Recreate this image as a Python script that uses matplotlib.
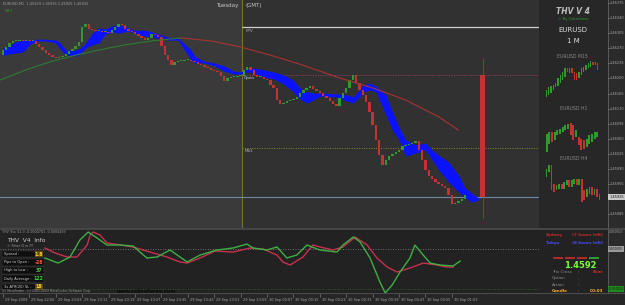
import numpy as np
import matplotlib.pyplot as plt
from matplotlib.patches import Rectangle
from matplotlib.transforms import blended_transform_factory as blend

# ---------------- data ----------------
# EURUSD M1 closes, one candle per minute starting 22:47
first_open = 1.46254
closes = [1.46266, 1.46273, 1.46282, 1.46287, 1.46287, 1.46289, 1.46287, 1.46289, 1.46287, 1.46287,
          1.46280, 1.46273, 1.46266, 1.46259, 1.46254, 1.46250, 1.46247, 1.46250, 1.46252, 1.46257,
          1.46264, 1.46268, 1.46275, 1.46285, 1.46319, 1.46326, 1.46315, 1.46312, 1.46310, 1.46310,
          1.46308, 1.46308, 1.46305, 1.46312, 1.46319, 1.46326, 1.46324, 1.46315, 1.46310, 1.46308,
          1.46303, 1.46298, 1.46294, 1.46289, 1.46294, 1.46303, 1.46301, 1.46296, 1.46275, 1.46254,
          1.46243, 1.46231, 1.46238, 1.46240, 1.46240, 1.46243, 1.46243, 1.46240, 1.46238, 1.46233,
          1.46231, 1.46227, 1.46224, 1.46220, 1.46217, 1.46215, 1.46206, 1.46194, 1.46201, 1.46203,
          1.46203, 1.46206, 1.46206, 1.46220, 1.46227, 1.46220, 1.46208, 1.46203, 1.46203, 1.46199,
          1.46196, 1.46185, 1.46178, 1.46150, 1.46141, 1.46143, 1.46148, 1.46150, 1.46152, 1.46157,
          1.46166, 1.46173, 1.46178, 1.46182, 1.46175, 1.46171, 1.46166, 1.46159, 1.46155, 1.46148,
          1.46141, 1.46136, 1.46155, 1.46166, 1.46178, 1.46196, 1.46208, 1.46189, 1.46173, 1.46162,
          1.46145, 1.46122, 1.46092, 1.46057, 1.46022, 1.45999, 1.46011, 1.46020, 1.46025, 1.46029,
          1.46034, 1.46043, 1.46046, 1.46048, 1.46050, 1.46055, 1.46034, 1.46011, 1.45988, 1.45974,
          1.45967, 1.45960, 1.45955, 1.45950, 1.45946, 1.45930, 1.45909, 1.45911, 1.45916, 1.45920,
          1.45930]

# blue ribbon (upper / lower edge)
ribbon_idx = [0, 2, 4, 6, 8, 10, 13, 16, 17, 19, 22, 23, 25, 27, 29, 31, 33, 35, 38, 40,
              43, 45, 48, 51, 53, 55, 57, 58, 61, 64, 67, 70, 72, 74, 76, 79, 82, 85, 88, 90,
              92, 94, 96, 101, 104, 106, 108, 109, 111, 113, 116, 118, 120, 122, 125, 128, 130, 132, 135, 138,
              140, 142, 144]
ribbon_top = [1.46271, 1.46278, 1.46285, 1.46289, 1.46289, 1.46291, 1.46291, 1.46289, 1.46285, 1.46266,
              1.46266, 1.46268, 1.46282, 1.46305, 1.46317, 1.46315, 1.46322, 1.46324, 1.46317, 1.46312,
              1.46312, 1.46308, 1.46301, 1.46294, 1.46294, 1.46280, 1.46266, 1.46252, 1.46240, 1.46236,
              1.46229, 1.46217, 1.46215, 1.46222, 1.46224, 1.46220, 1.46215, 1.46208, 1.46196, 1.46178,
              1.46169, 1.46166, 1.46166, 1.46164, 1.46162, 1.46157, 1.46173, 1.46185, 1.46189, 1.46182,
              1.46162, 1.46122, 1.46087, 1.46057, 1.46046, 1.46050, 1.46034, 1.46022, 1.46006, 1.45976,
              1.45946, 1.45934, 1.45923]
ribbon_bot = [1.46254, 1.46257, 1.46259, 1.46261, 1.46278, 1.46287, 1.46287, 1.46282, 1.46271, 1.46254,
              1.46252, 1.46254, 1.46271, 1.46278, 1.46282, 1.46303, 1.46308, 1.46305, 1.46310, 1.46305,
              1.46298, 1.46296, 1.46291, 1.46289, 1.46289, 1.46266, 1.46243, 1.46236, 1.46236, 1.46229,
              1.46217, 1.46210, 1.46210, 1.46215, 1.46213, 1.46203, 1.46199, 1.46187, 1.46169, 1.46152,
              1.46143, 1.46150, 1.46159, 1.46157, 1.46148, 1.46143, 1.46157, 1.46169, 1.46173, 1.46169,
              1.46115, 1.46080, 1.46057, 1.46020, 1.46027, 1.46034, 1.46011, 1.45988, 1.45960, 1.45937,
              1.45923, 1.45913, 1.45918]

# long moving average (green before the day break, red after)
ma_green_idx = [-1, 7, 14, 22, 29, 37, 45, 54]
ma_green = [1.46196, 1.46220, 1.46238, 1.46254, 1.46266, 1.46278, 1.46287, 1.46294]
ma_red_idx = [54, 63, 72, 81, 90, 96, 102, 112, 122, 132, 138]
ma_red = [1.46294, 1.46287, 1.46273, 1.46254, 1.46233, 1.46217, 1.46201, 1.46178, 1.46150, 1.46111, 1.46080]

# daily candle drawn at the right
day_idx = 145.3
day_open, day_close, day_high, day_low = 1.46208, 1.45925, 1.46247, 1.45876

# levels
fpv_level = 1.46319
open_level = 1.46208
ms1_level = 1.46039
bid = 1.45925
day_break_idx = 72.4
price_ticks = [1.46375, 1.46340, 1.46305, 1.46270, 1.46235, 1.46200, 1.46165, 1.46130,
               1.46095, 1.46060, 1.46025, 1.45990, 1.45955, 1.45885]

# THV Trix oscillator (x 1e-6)
osc_red_idx = [12.7, 15.8, 19.4, 22.4, 25.5, 26.4, 27.3, 29.4, 31.5, 35.5,
               39.4, 44.5, 49.7, 53.6, 55.8, 59.7, 64.2, 69.7, 74.8, 78.8,
               83, 84.8, 87, 90.9, 93.9, 96, 100, 103, 106.7, 110.3,
               113.3, 116.4, 119.4, 123.3, 127.3, 131.5, 134.5, 136.4]
osc_red = [1.3, -5.3, -10.6, -10.6, 5.3, 18.6, 22.5, 18.6, 8.0, 5.3,
           2.7, -4.0, -10.6, -17.2, -18.6, -11.9, -2.7, -4.0, 1.3, 0.0,
           -8.0, -17.2, -21.2, -10.6, 5.3, 2.7, -1.3, 2.7, 15.9, 5.3,
           -11.9, -23.9, -30.5, -25.2, -18.6, -21.2, -23.9, -23.9]
osc_green_idx = [12.7, 16.7, 20.3, 23.3, 25.8, 28.5, 31.5, 35.5, 39.4, 43.6,
                 46.7, 50.6, 55.8, 59.7, 64.8, 69.7, 73.9, 75.8, 80, 83,
                 86, 89, 92.1, 96, 101.2, 103, 106.1, 108.2, 111.2, 114.2,
                 115.8, 117.9, 120.3, 123.3, 124.8, 127.3, 129.4, 132.4, 136.4, 138.5]
osc_green = [-11.9, -18.6, -10.6, 11.9, 22.5, 14.6, 5.3, 5.3, 4.0, -11.9,
             -10.6, -1.3, -17.2, -8.0, -1.3, 1.3, 6.6, 1.3, -1.3, 2.7,
             -11.9, -8.0, 5.3, -1.3, -4.0, 5.3, 15.9, 9.3, -11.9, -43.7,
             -58.3, -47.7, -30.5, -11.9, 5.3, -8.0, -18.6, -21.2, -22.5, -15.9]
osc_ticks = [22.5, 0.0, -53.0]
osc_tick_labels = ["0.000053", "0.000000", "-0.000053"]

# mini charts in the THV panel (relative heights)
m15_opens = [3, 5, 7, 10, 13, 14, 17, 20, 23, 32, 27, 32, 28, 27, 22, 25, 28, 30, 32, 33, 38, 35, 37]
m15_closes = [10, 13, 14, 15, 17, 22, 25, 28, 32, 28, 32, 27, 20, 20, 28, 32, 33, 35, 37, 39, 35, 38, 30]
h1_opens = [5, 13, 25, 17, 22, 23, 25, 27, 28, 34, 32, 20, 20, 18, 17, 10, 13, 15, 18, 20]
h1_closes = [23, 25, 15, 25, 27, 28, 30, 32, 33, 22, 17, 27, 12, 7, 8, 18, 22, 23, 25, 25]
h4_opens = [30, 35, 42, 23, 17, 18, 23, 18, 22, 27, 20, 23, 28, 22, 28, 17, 10, 13, 20, 12, 18, 13]
h4_closes = [38, 42, 17, 15, 22, 23, 18, 25, 27, 20, 27, 28, 22, 28, 5, 7, 18, 20, 12, 18, 10, 7]

time_labels = ["29 Sep 2009", "29 Sep 22:55", "29 Sep 23:03", "29 Sep 23:11", "29 Sep 23:19",
               "29 Sep 23:27", "29 Sep 23:35", "29 Sep 23:43", "29 Sep 23:51", "29 Sep 23:59",
               "30 Sep 00:07", "30 Sep 00:15", "30 Sep 00:23", "30 Sep 00:31", "30 Sep 00:39",
               "30 Sep 00:47", "30 Sep 00:55", "30 Sep 01:03"]

info_labels = ["Spread :", "Pips to Open :", "High to Low :", "Daily Average :", "3x ATR(20) SL :"]
info_values = ["1.8", "-28", "37", "122", "18"]

GREEN = '#2f9b2f'
RED = '#c63131'

fig = plt.figure(figsize=(6.25, 3.05), dpi=100, facecolor='#262626')


def px_axes(x0, y0, x1, y1, **kw):
    a = fig.add_axes([x0 / 625, 1 - y1 / 305, (x1 - x0) / 625, (y1 - y0) / 305], **kw)
    a.set_xticks([])
    a.set_yticks([])
    for s in a.spines.values():
        s.set_visible(False)
    return a


def draw_candles(a, op, cl, width, min_body):
    cl = np.array(cl, dtype=float)
    op = np.array(op, dtype=float)
    x = np.arange(len(cl))
    lo = np.minimum(op, cl)
    h = np.maximum(np.abs(cl - op), min_body)
    colors = np.where(cl >= op, GREEN, RED)
    a.bar(x, h, bottom=lo, width=width, color=colors, linewidth=0, zorder=3)


# ---------------- main price chart ----------------
ax = px_axes(0, 0, 608, 228)
ax.set_facecolor('#313131')
ax.set_xlim(-0.91, 183.3)
ax.set_ylim(1.45853, 1.46382)
ax.axvspan(-1, day_break_idx, color='#3a3a3a', zorder=0, lw=0)

ax.fill_between(ribbon_idx, ribbon_bot, ribbon_top, color='#0a12ff', lw=0, zorder=2)
m1_opens = [first_open] + closes[:-1]
draw_candles(ax, m1_opens, closes, 0.72, 0.00002)
ax.plot(ma_green_idx, ma_green, color='#2f7a2f', lw=0.8, zorder=4)
ax.plot(ma_red_idx, ma_red, color='#a83232', lw=0.8, zorder=4)

ax.vlines(day_idx, day_low, day_high, color='#b03030', lw=0.6, zorder=3)
ax.bar(day_idx, day_open - day_close, bottom=day_close, width=1.5, color='#c43232', lw=0, zorder=3)

ax.axvline(day_break_idx, color='#74742e', lw=0.8, zorder=1)
ax.hlines(fpv_level, day_break_idx, 183, color='#d0d0d0', lw=0.9, zorder=1)
ax.hlines(open_level, day_break_idx, 183, color='#9a3d63', lw=0.7, linestyles=(0, (1, 1.5)), zorder=1)
ax.hlines(ms1_level, day_break_idx, 183, color='#85852e', lw=0.7, linestyles=(0, (1, 1.5)), zorder=1)
ax.axhline(bid, color='#7088a8', lw=0.8, zorder=1)

# ---------------- oscillator panel ----------------
ax2 = px_axes(0, 230, 608, 293)
ax2.set_facecolor('#222222')
ax2.set_xlim(-0.91, 183.3)
ax2.set_ylim(-58.3, 25.2)
ax2.axhline(0, color='#8a8a8a', lw=0.6, linestyle=(0, (1, 2)))
ax2.axhline(-53, color='#2f6a2f', lw=0.6, linestyle=(0, (1, 2)))
ax2.plot(osc_red_idx, osc_red, color='#c8304e', lw=1.0, solid_joinstyle='round')
ax2.plot(osc_green_idx, osc_green, color='#3cb043', lw=1.0, solid_joinstyle='round')

# ---------------- overlay (panels, labels) ----------------
ov = px_axes(0, 0, 625, 305, zorder=5)
ov.set_xlim(0, 625)
ov.set_ylim(305, 0)
ov.patch.set_alpha(0)
tp = blend(ov.transData, ax.transData)
to = blend(ov.transData, ax2.transData)
tx = blend(ax.transData, ov.transData)

ov.add_patch(Rectangle((539, 0), 68.5, 228, color='#272727', lw=0))
ov.add_patch(Rectangle((539, 230), 68.5, 63, color='#222222', lw=0))
ov.add_patch(Rectangle((607.5, 0), 17.5, 293, color='#2b2b2b', lw=0))
ov.plot([607.5, 607.5], [0, 293], color='#5a5a5a', lw=0.7)
ov.plot([0, 625], [229, 229], color='#4c4c4c', lw=1.2)
ov.add_patch(Rectangle((0, 293), 625, 12, color='#262626', lw=0))
ov.plot([0, 625], [293.3, 293.3], color='#555555', lw=0.6)

# price axis
for p in price_ticks:
    ov.plot([607.5, 609.5], [p, p], transform=tp, color='#888888', lw=0.4)
    ov.text(609.5, p, f'{p:.5f}', transform=tp, fontsize=2.5, color='#a8a8a8', va='center')
ov.text(609.5, bid, f'{bid:.5f}', transform=tp, fontsize=2.5, color='#111111', va='center',
        bbox=dict(boxstyle='square,pad=0.3', fc='#c8c8c8', ec='none'))
for v, lab in zip(osc_ticks, osc_tick_labels):
    box = None
    col = '#a8a8a8'
    if v == 0:
        box = dict(boxstyle='square,pad=0.25', fc='#9a9a9a', ec='none')
        col = '#111111'
    elif v < 0:
        box = dict(boxstyle='square,pad=0.25', fc='#1f8a1f', ec='none')
        col = '#111111'
    ov.text(608.8, v, lab, transform=to, fontsize=2.1, color=col, va='center', bbox=box)

# time axis
for k, lab in enumerate(time_labels):
    i = 8 * k
    ov.plot([i, i], [293.5, 296.5], transform=tx, color='#8a8a8a', lw=0.4)
    ov.text(i + 0.6, 299.5, lab, transform=tx, fontsize=2.5, color='#a8a8a8', va='center')

# main chart labels
ov.text(3, 4, 'EURUSD,M1  1.45929 1.45935 1.45925 1.45932', fontsize=2.5, color='#a0a0a0', va='center')
ov.text(5, 11, 'MA3', fontsize=2.6, color='#2f8a2f', va='center')
ov.text(238, 5, 'Tuesday', fontsize=4, color='#c8c8c8', ha='right', va='center')
ov.text(246, 5, '(GMT)', fontsize=4, color='#c8c8c8', va='center')
ov.text(246, 31, 'FPV', fontsize=3, color='#b0b0b0', va='center')
ov.text(244, 78, 'Open', fontsize=3, color='#d0d0d0', va='center')
ov.text(245, 151, 'MS1', fontsize=3, color='#b0b0b0', va='center')

# THV panel
ov.text(573, 11, 'THV V 4', fontsize=5.5, color='#bdbdbd', ha='center', va='center',
        fontweight='bold', fontstyle='italic')
ov.text(573, 19, '\u00a9 By Cobraforex', fontsize=2.6, color='#2f9b2f', ha='center', va='center')
ov.text(573, 30, 'EURUSD', fontsize=5, color='#dcdcdc', ha='center', va='center')
ov.text(573, 41, '1 M', fontsize=5, color='#dcdcdc', ha='center', va='center')
ov.text(572, 56, 'EURUSD M15', fontsize=3.3, color='#8a8a8a', ha='center', va='center')
ov.text(574, 108, 'EURUSD H1', fontsize=3.3, color='#8a8a8a', ha='center', va='center')
ov.text(574, 159, 'EURUSD H4', fontsize=3.3, color='#8a8a8a', ha='center', va='center')

# oscillator panel texts
ov.text(2, 232, 'THV Trix V1.0 -0.0000701 -0.0000493', fontsize=2.4, color='#9a9a9a', va='center')
ov.text(7, 240, 'THV  V4  Info', fontsize=4.2, color='#d0d0d0', va='center')
ov.text(7, 246, '\u00a9 Peter D in FF', fontsize=2.4, color='#9a9a9a', va='center')
value_colors = ['#ffd21f', '#ff5a36', '#3bd13b', '#3bd13b', '#ffd21f']
value_bgs = ['#5a4a10', '#0e0e0e', '#0e0e0e', '#0e0e0e', '#5a4a10']
for r, (lab, val) in enumerate(zip(info_labels, info_values)):
    yc = 254 + 8.2 * r
    ov.add_patch(Rectangle((2, yc - 3.3), 42, 6.6, fc='#0e0e0e', ec='#454545', lw=0.3))
    ov.add_patch(Rectangle((34.5, yc - 2.9), 8.5, 5.8, fc=value_bgs[r], ec='none'))
    ov.text(4, yc, lab, fontsize=2.6, color='#cfcfcf', va='center')
    ov.text(38.7, yc, val, fontsize=3.4, color=value_colors[r], va='center', ha='center', fontweight='bold')
ov.text(2, 291, '(C) MetaTrader - (c) 2001-2009 MetaQuotes Software Corp.', fontsize=2.2,
        color='#9a9a9a', va='center')
ov.text(117, 291.5, 'www.cobraforex.com', fontsize=3.6, color='#0c0c0c', va='center', fontweight='bold')

ov.text(546, 235, 'Sydney', fontsize=3, color='#c82a2a', va='center', fontweight='bold')
ov.text(603, 235, '(7 hours left)', fontsize=3, color='#c82a2a', va='center', ha='right', fontweight='bold')
ov.text(546, 243, 'Tokyo', fontsize=3, color='#4a4aff', va='center', fontweight='bold')
ov.text(603, 243, '(8 hours left)', fontsize=3, color='#4a4aff', va='center', ha='right', fontweight='bold')
for j, col in enumerate(['#b02a2a', '#b02a2a', '#b02a2a', '#2f9b2f']):
    ov.add_patch(Rectangle((553 + 12 * j, 257), 9.5, 2.2, color=col, lw=0))
ov.text(580, 266, '1.4592', fontsize=6, color='#7dff3a', ha='center', va='center', fontweight='bold')
for r, lab in enumerate(['Trix Cross', 'Option', 'Action', 'Candle']):
    yc = 272 + 6.5 * r
    col = '#ffaa33' if lab == 'Candle' else '#8a8a8a'
    ov.text(552, yc, lab, fontsize=3, color=col, va='center', fontweight='bold' if lab == 'Candle' else 'normal')
    ov.text(578, yc, ':', fontsize=3, color=col, va='center')
ov.text(603, 272, 'Bear', fontsize=3, color='#c82a2a', va='center', ha='right', fontweight='bold')
ov.text(603, 291.5, '00:03', fontsize=3, color='#ffaa33', va='center', ha='right', fontweight='bold')

# mini charts
for (x0, y0, x1, y1, op, cl, top) in [(544, 58, 600, 100, m15_opens, m15_closes, 42),
                                      (544, 112, 600, 157, h1_opens, h1_closes, 45),
                                      (544, 162, 602, 207, h4_opens, h4_closes, 45)]:
    m = px_axes(x0, y0, x1, y1, zorder=6)
    m.patch.set_alpha(0)
    m.set_xlim(-1, len(cl))
    m.set_ylim(0, top)
    draw_candles(m, op, cl, 0.7, 0.8)

fig.savefig('out.png', dpi=100, facecolor=fig.get_facecolor())
